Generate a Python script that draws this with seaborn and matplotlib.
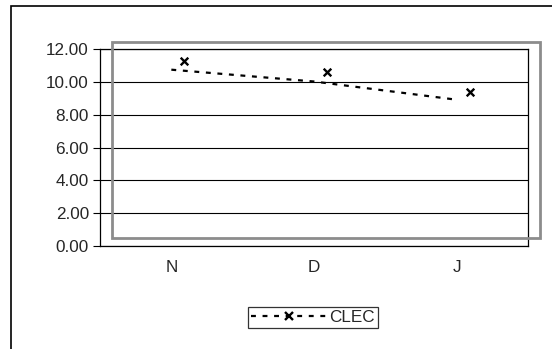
import matplotlib
matplotlib.use('Agg')
import matplotlib.pyplot as plt
import matplotlib.transforms as mtransforms
from matplotlib.lines import Line2D
from matplotlib.patches import Rectangle
import seaborn as sns
import pandas as pd

# data
months = ['N', 'D', 'J']
clec = [11.24, 10.57, 9.41]          # plotted points (x markers)
trend = [10.74, 10.02, 8.91]         # dotted line
y_ticks = [0, 2, 4, 6, 8, 10, 12]

sns.set_theme(style='white')
plt.rcParams['font.family'] = ['Liberation Sans', 'DejaVu Sans']
FS = 12.3
plt.rcParams['font.size'] = FS

df = pd.DataFrame({'month': months, 'clec': clec, 'trend': trend})

fig = plt.figure(figsize=(5.52, 3.49), dpi=100)
W, H = 552, 349
ax = fig.add_axes([100 / W, 1 - 246 / H, 428 / W, 197 / H])

# dotted trend line
sns.lineplot(data=df, x='month', y='trend', ax=ax, color='black',
             linewidth=1.6, sort=False, zorder=3)
ax.lines[-1].set_dashes((2.2, 3.0))

# x markers, shifted a little right as in the original
sns.scatterplot(data=df, x='month', y='clec', ax=ax, marker='x', s=30,
                color='black', linewidth=1.7, zorder=4)
off = mtransforms.offset_copy(ax.transData, fig=fig, x=13, y=0, units='dots')
ax.collections[-1].set_offset_transform(off)

ax.set_xlim(-0.5, 2.5)
ax.set_ylim(0, 12)
ax.set_yticks(y_ticks)
ax.set_yticklabels([f'{v:.2f}' for v in y_ticks])
ax.set_xticks(range(len(months)))
ax.set_xticklabels(months)
ax.set_xticks([-0.5, 0.5, 1.5, 2.5], minor=True)
ax.tick_params(axis='x', which='major', length=0, pad=10, labelsize=FS)
ax.tick_params(axis='x', which='minor', length=4, width=0.8, color='black', direction='out')
ax.tick_params(axis='y', length=5, width=0.8, color='black', direction='out', pad=3,
               left=True, labelsize=FS)
ax.set_xlabel('')
ax.set_ylabel('')
for s in ax.spines.values():
    s.set_color('black')
    s.set_linewidth(0.9)
ax.grid(axis='y', color='black', linewidth=0.8)
ax.grid(axis='x', visible=False)

# grey plot-area frame
fig.patches.append(Rectangle((112 / W, 1 - 237.5 / H), 428 / W, 195.5 / H,
                             transform=fig.transFigure, fill=False,
                             edgecolor='#8c8c8c', linewidth=2.0, zorder=10))
# outer chart frame (runs off the right/bottom edges)
fig.patches.append(Rectangle((11 / W, -0.05), 1.2, 1 - 6 / H + 0.05,
                             transform=fig.transFigure, fill=False,
                             edgecolor='black', linewidth=1.2, zorder=10))

handle = Line2D([], [], color='black', linewidth=1.6, dashes=(2.2, 3.0),
                marker='x', markersize=5.5, markeredgewidth=1.7)
leg = fig.legend([handle], ['CLEC'], loc='center', bbox_to_anchor=(313 / W, 1 - 317.5 / H),
                 frameon=True, fancybox=False, edgecolor='black', handlelength=4.5,
                 handletextpad=0.1, borderpad=0.15, borderaxespad=0, fontsize=FS)
leg.get_frame().set_linewidth(0.9)

fig.savefig('out.png', dpi=100)
